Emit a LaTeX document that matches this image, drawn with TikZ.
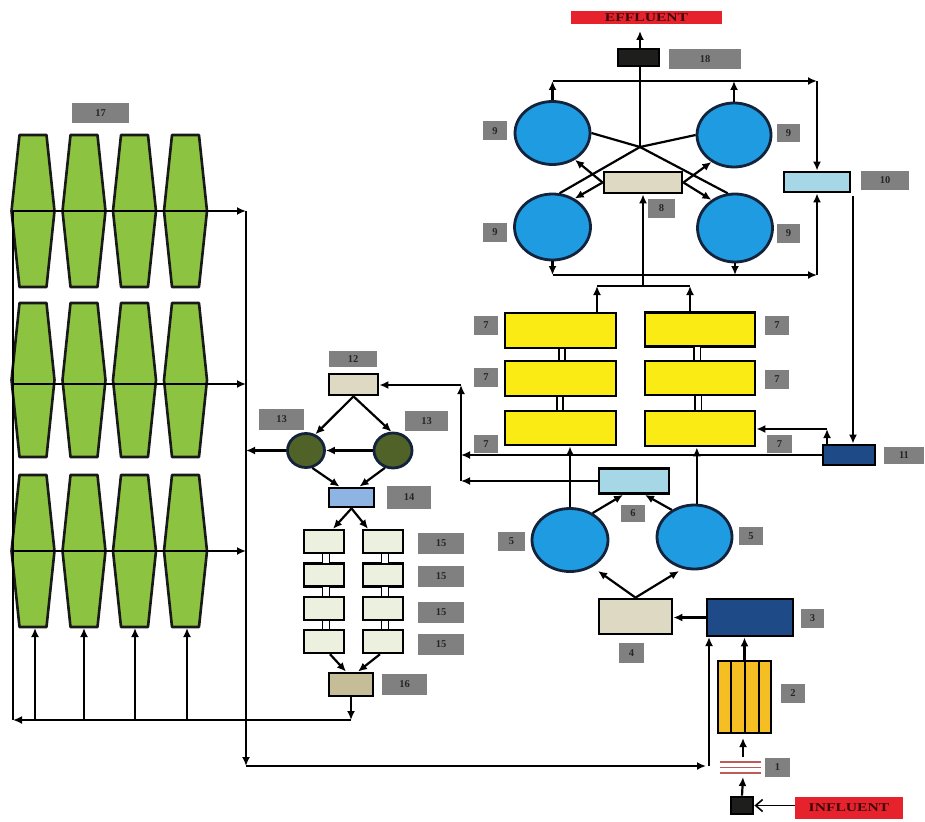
\documentclass[tikz,border=0pt]{standalone}
\usepackage{fontspec}
\setmainfont{Liberation Serif}
\usetikzlibrary{shapes.geometric,arrows.meta,calc}
\definecolor{effred}{RGB}{230,35,45}
\definecolor{darkbx}{RGB}{30,30,28}
\definecolor{cblue}{RGB}{30,155,225}
\definecolor{cedge}{RGB}{20,35,60}
\definecolor{yel}{RGB}{250,235,20}
\definecolor{hexgreen}{RGB}{140,195,65}
\definecolor{beige}{RGB}{221,217,195}
\definecolor{lblue}{RGB}{165,215,230}
\definecolor{navy}{RGB}{30,75,135}
\definecolor{blueb}{RGB}{142,180,227}
\definecolor{khaki}{RGB}{196,189,151}
\definecolor{paleg}{RGB}{235,241,222}
\definecolor{orangey}{RGB}{245,190,35}
\definecolor{olive}{RGB}{80,98,40}
\definecolor{lblgray}{RGB}{128,128,128}
\definecolor{redline}{RGB}{190,90,90}
\newcommand\lblfont{\fontsize{10.5}{11}\selectfont\bfseries}
\newcommand\glab[6]{\node[lbl,minimum width=#4pt,minimum height=#5pt] (#1) at (#2,#3) {#6};}
\newcommand\bbox[6]{\node[bx,fill=#6,minimum width=#4pt,minimum height=#5pt] (#1) at (#2,#3) {};}
\begin{document}
\begin{tikzpicture}[x=1pt,y=-1pt,
  lbl/.style={fill=lblgray,inner sep=0pt,font=\lblfont,text=black!85},
  bx/.style={draw=black,line width=2.8pt,inner sep=0pt},
  cir/.style={ellipse,draw=cedge,line width=2.8pt,inner sep=0pt},
  arr/.style={-{Latex[length=9pt,width=8pt]},line width=2.2pt},
  ln/.style={line width=2.2pt},
  hexs/.style={draw=black!90,fill=hexgreen,line width=2.6pt,line join=round},
  tag/.style={fill=effred,inner sep=0pt,font=\fontsize{12}{12}\selectfont\bfseries,text={rgb,255:red,60;green,10;blue,10}}]
\useasboundingbox (0,0) rectangle (925,821);

% ---------- 17 : hexagon reactors ----------
\foreach \cy/\hh in {211/76,380/77,551/76}{
  \foreach \cx in {33,84,134.5,185.5}{
    \draw[hexs] (\cx-13.5,\cy-\hh) -- (\cx+13.5,\cy-\hh) -- (\cx+21.5,\cy) -- (\cx+13.5,\cy+\hh) -- (\cx-13.5,\cy+\hh) -- (\cx-21.5,\cy) -- cycle;
  }
}
\glab{l17}{100.5}{113}{57}{20}{17}
\coordinate (v0) at (246,211);
\coordinate (v1) at (246,766);
\coordinate (v2) at (706,766);
\coordinate (r1) at (13,211);
\coordinate (r2) at (13,384);
\coordinate (r3) at (13,551);
\coordinate (w1) at (351,720);
\coordinate (w2) at (13,720);
\draw[arr] (r1) -- (v0);
\draw[arr] (r2) -- (r2 -| v0);
\draw[arr] (r3) -- (r3 -| v0);
\draw[arr] (v0) -- (v1);
\draw[arr] (v1) -- (v2);
\draw[arr] (w1) -- (w2);
\draw[ln] (w2) -- (r1);
\foreach \x in {35,84,135,187}{ \draw[arr] (\x,720) -- (\x,628); }

% ---------- top : clarifiers 9, 8, 10, 18 ----------
\node[tag,minimum width=151pt,minimum height=13pt] (eff) at (646.5,17.5) {\scalebox{1.3}[1]{EFFLUENT}};
\node[cir,fill=cblue,minimum width=75pt,minimum height=63pt] (c9a) at (552.5,133) {};
\node[cir,fill=cblue,minimum width=74pt,minimum height=64pt] (c9b) at (734,135) {};
\node[cir,fill=cblue,minimum width=76pt,minimum height=66pt] (c9c) at (552.5,227) {};
\node[cir,fill=cblue,minimum width=75pt,minimum height=68pt] (c9d) at (735,228) {};
\coordinate (j) at (640,147);
\coordinate (effin) at (640,31);
\draw[ln] (c9a.east) -- (j);
\draw[ln] (c9b.west) -- (j);
\draw[ln] (c9c.78) -- (j);
\draw[ln] (c9d.102) -- (j);
\draw[arr] (j) -- (effin);
\bbox{b18}{638.5}{57.5}{41}{17}{darkbx}
\glab{l18}{705}{59}{72}{20}{18}
\bbox{b8}{643}{182.5}{78}{21}{beige}
\glab{l8}{661.5}{208.5}{27}{19}{8}
\bbox{b10}{817}{182}{66}{20}{lblue}
\glab{l10}{885}{180.5}{48}{19}{10}
\glab{l9a}{495}{131}{24}{19}{9}
\glab{l9b}{788.5}{133}{23}{18}{9}
\glab{l9c}{495}{232}{24}{19}{9}
\glab{l9d}{788.5}{233.5}{23}{19}{9}
\draw[arr] (b8.west) -- (c9a.-50);
\draw[arr] (b8.west) -- (c9c.52);
\draw[arr] (b8.east) -- (c9b.-130);
\draw[arr] (b8.east) -- (c9d.130);
\coordinate (t1) at (552.5,81);
\coordinate (t2) at (734,81);
\coordinate (t3) at (817,81);
\draw[arr] (c9a.north) -- (t1);
\draw[arr] (c9b.north) -- (t2);
\draw[arr] (t1) -- (t3);
\draw[arr] (t3) -- (b10.north);
\coordinate (u1) at (552.5,275);
\coordinate (u2) at (735,275);
\coordinate (u3) at (817,275);
\draw[arr] (c9c.south) -- (u1);
\draw[arr] (c9d.south) -- (u2);
\draw[arr] (u1) -- (u3);
\draw[arr] (u3) -- (b10.south);

% ---------- 7 : yellow reactors ----------
\bbox{y7a1}{560.5}{330.5}{111}{35}{yel}
\bbox{y7a2}{560.5}{378.5}{111}{35}{yel}
\bbox{y7a3}{560.5}{428}{111}{34}{yel}
\bbox{y7b1}{700}{329.5}{110}{34}{yel}
\bbox{y7b2}{700}{378}{110}{34}{yel}
\bbox{y7b3}{700}{428.5}{110}{35}{yel}
\draw[fill=white,line width=1.8pt] (559,348) rectangle (565,361);
\draw[fill=white,line width=1.8pt] (557,396) rectangle (563,411);
\draw[fill=white,line width=1.8pt] (694,346.5) rectangle (700.5,361);
\draw[fill=white,line width=1.8pt] (695,395) rectangle (701.5,411);
\glab{l7a}{486}{325.5}{24}{19}{7}
\glab{l7b}{486}{377.5}{24}{19}{7}
\glab{l7c}{486}{444}{24}{18}{7}
\glab{l7d}{777}{325.5}{24}{19}{7}
\glab{l7e}{777}{379.5}{24}{19}{7}
\glab{l7f}{779.5}{444}{25}{18}{7}
\coordinate (k1) at (597,286);
\coordinate (k2) at (690,286);
\coordinate (k3) at (643,286);
\draw[arr] (k1 |- y7a1.north) -- (k1);
\draw[arr] (k2 |- y7b1.north) -- (k2);
\draw[ln] (k1) -- (k2);
\draw[arr] (k3) -- (b8.south);

% ---------- 10 -> 11 ----------
\bbox{b11}{849}{455}{52}{20}{navy}
\glab{l11}{904}{455.5}{40}{17}{11}
\coordinate (d10) at (853,196);
\draw[arr] (d10) -- (d10 |- b11.north);
\coordinate (n0) at (827,445);
\coordinate (n1) at (827,429);
\draw[arr] (n0) -- (n1);
\draw[arr] (n1) -- (n1 -| y7b3.east);

% ---------- 5, 6 ----------
\node[cir,fill=cblue,minimum width=76pt,minimum height=63pt] (c5a) at (570,540) {};
\node[cir,fill=cblue,minimum width=75pt,minimum height=64pt] (c5b) at (694.5,537) {};
\bbox{b6}{634}{481}{70}{25}{lblue}
\glab{l6}{633}{513.5}{24}{17}{6}
\glab{l5a}{511.5}{541.5}{27}{19}{5}
\glab{l5b}{751}{536}{24}{18}{5}
\draw[arr] (c5a.north) -- (c5a.north |- y7a3.south);
\draw[arr] (c5b.86) -- (c5b.86 |- y7b3.south);
\draw[arr] (c5a.50) -- ($(b6.south)+(-11,0)$);
\draw[arr] (c5b.130) -- ($(b6.south)+(11,0)$);
\coordinate (m3) at (461,385);
\draw[arr] (b6.west) -- (b6.west -| m3);
\draw[arr] (b11.west) -- (b11.west -| m3);
\draw[arr] (b6.west -| m3) -- (m3);

% ---------- 4, 3, 2, 1, influent ----------
\bbox{b4}{635.5}{616.5}{73}{35}{beige}
\glab{l4}{631.5}{653}{25}{20}{4}
\bbox{b3}{750}{617.5}{86}{37}{navy}
\glab{l3}{812.5}{618.5}{23}{19}{3}
\bbox{b2}{744.5}{697}{53}{72}{orangey}
\draw[line width=2.2pt] (731,661) -- (731,733) (745,661) -- (745,733) (759,661) -- (759,733);
\glab{l2}{793}{693.5}{24}{19}{2}
\coordinate (p5a) at (598,571);
\coordinate (p5b) at (679,571);
\draw[arr] (b4.north) -- (p5a);
\draw[arr] (b4.north) -- (p5b);
\draw[arr] (b3.west) -- (b3.west -| b4.east);
\draw[arr] (b2.north) -- (b2.north |- b3.south);
\draw[line width=1.6pt,redline] (720,762) -- (761,762) (720,767.5) -- (761,767.5) (720,773) -- (761,773);
\coordinate (i1t) at (743,757);
\coordinate (i1b) at (743,777);
\glab{l1}{777.5}{767.5}{25}{19}{1}
\draw[arr] (i1t) -- (743,738);
\bbox{pump}{742}{805.5}{22}{17}{darkbx}
\draw[arr] (pump.north) -- (i1b);
\node[tag,minimum width=108pt,minimum height=22pt] (infl) at (849,808) {\scalebox{1.3}[1]{INFLUENT}};
\draw[-{Straight Barb[length=7pt,width=12pt]},line width=1.6pt] (infl.west |- pump.east) -- (pump.east);
\draw[arr] (709,766) -- (709,637);

% ---------- 12 - 16 ----------
\bbox{b12}{353.5}{384.5}{49}{21}{beige}
\glab{l12}{353}{359}{48}{16}{12}
\draw[arr] (m3) -- (m3 -| b12.east);
\node[cir,fill=olive,minimum width=37pt,minimum height=34pt] (c13a) at (306,450.5) {};
\node[cir,fill=olive,minimum width=38pt,minimum height=35pt] (c13b) at (393,450.5) {};
\glab{l13a}{281.5}{419.5}{45}{21}{13}
\glab{l13b}{426.5}{421}{43}{20}{13}
\draw[arr] (b12.south) -- (c13a.60);
\draw[arr] (b12.south) -- (c13b.95);
\draw[arr] (c13b.west) -- (c13a.east);
\draw[arr] (c13a.west) -- (c13a.west -| v0);
\bbox{b14}{351.5}{497.5}{45}{19}{blueb}
\glab{l14}{409}{497.5}{44}{23}{14}
\draw[arr] (c13a.-70) -- ($(b14.north)+(-12,0)$);
\draw[arr] (c13b.-115) -- ($(b14.north)+(8,0)$);
\foreach \r/\yy in {1/541.5,2/575,3/608.5,4/641.5}{
  \node[bx,fill=paleg,minimum width=40pt,minimum height=23pt,line width=2.4pt] (f\r a) at (324,\yy) {};
  \node[bx,fill=paleg,minimum width=40pt,minimum height=23pt,line width=2.4pt] (f\r b) at (383,\yy) {};
}
\draw[fill=white,line width=1.8pt] (322.5,553) rectangle (329.5,563.5);
\draw[fill=white,line width=1.8pt] (322.5,586.5) rectangle (329.5,597);
\draw[fill=white,line width=1.8pt] (322.5,620) rectangle (329.5,630);
\draw[fill=white,line width=1.8pt] (381.5,553) rectangle (388.5,563.5);
\draw[fill=white,line width=1.8pt] (381.5,586.5) rectangle (388.5,597);
\draw[fill=white,line width=1.8pt] (381.5,620) rectangle (388.5,630);
\glab{l15a}{441}{543.5}{46}{21}{15}
\glab{l15b}{441}{576}{46}{21}{15}
\glab{l15c}{441}{612}{46}{21}{15}
\glab{l15d}{441}{644}{46}{21}{15}
\draw[arr] (b14.south) -- ($(f1a.north)+(9,0)$);
\draw[arr] (b14.south) -- ($(f1b.north)+(-15,0)$);
\bbox{b16}{351}{684.5}{44}{23}{khaki}
\glab{l16}{404.5}{684.5}{45}{21}{16}
\draw[arr] ($(f4a.south)+(6,0)$) -- ($(b16.north)+(-5,0)$);
\draw[arr] ($(f4b.south)+(-3,0)$) -- ($(b16.north)+(7,0)$);
\draw[arr] (b16.south) -- (w1);
\end{tikzpicture}
\end{document}
